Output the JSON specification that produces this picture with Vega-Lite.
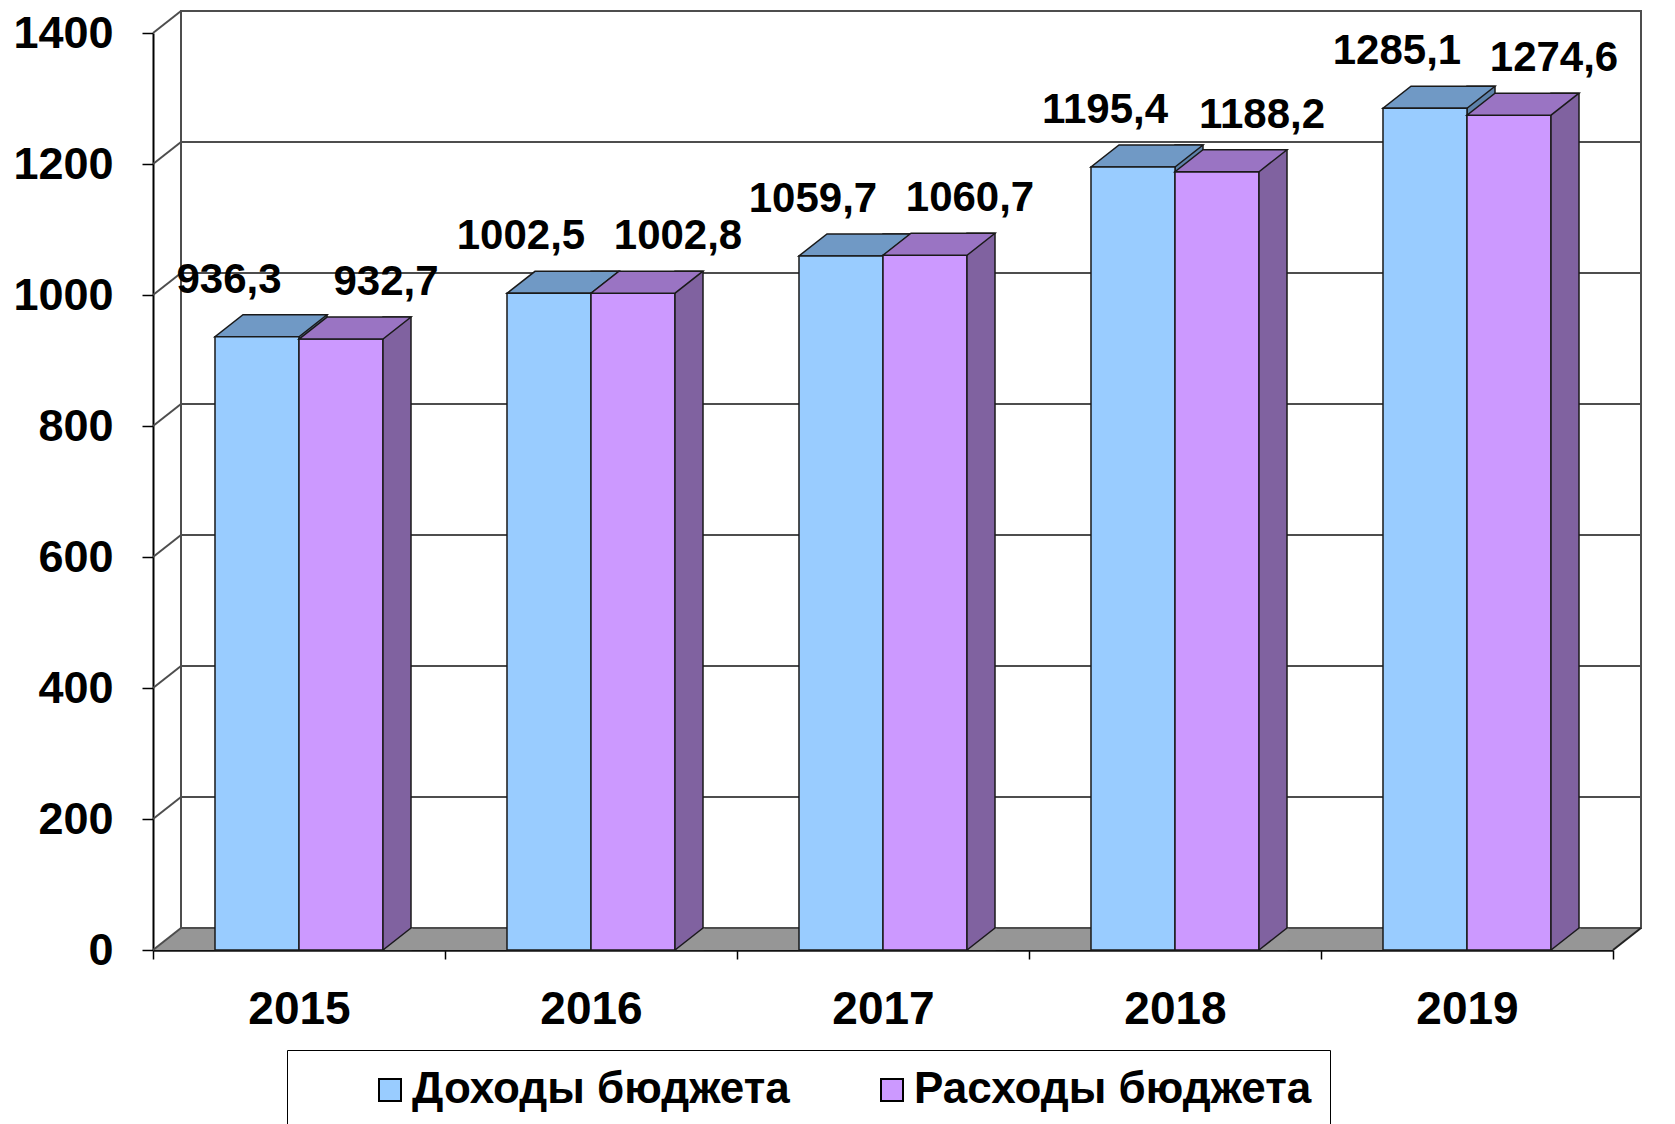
{
  "$schema": "https://vega.github.io/schema/vega-lite/v6.json",
  "width": 1460,
  "height": 917,
  "autosize": {"type": "none"},
  "padding": {"left": 153, "top": 33, "right": 62, "bottom": 174},
  "datasets": {
    "budget": [
      {"year": "2015", "series": "Доходы бюджета", "value": 936.3},
      {"year": "2015", "series": "Расходы бюджета", "value": 932.7},
      {"year": "2016", "series": "Доходы бюджета", "value": 1002.5},
      {"year": "2016", "series": "Расходы бюджета", "value": 1002.8},
      {"year": "2017", "series": "Доходы бюджета", "value": 1059.7},
      {"year": "2017", "series": "Расходы бюджета", "value": 1060.7},
      {"year": "2018", "series": "Доходы бюджета", "value": 1195.4},
      {"year": "2018", "series": "Расходы бюджета", "value": 1188.2},
      {"year": "2019", "series": "Доходы бюджета", "value": 1285.1},
      {"year": "2019", "series": "Расходы бюджета", "value": 1274.6}
    ],
    "grid": [{"v": 0}, {"v": 200}, {"v": 400}, {"v": 600}, {"v": 800}, {"v": 1000}, {"v": 1200}, {"v": 1400}],
    "one": [{}]
  },
  "config": {
    "view": {"stroke": null},
    "locale": {"number": {"decimal": ",", "thousands": "", "grouping": [3], "currency": ["", ""]}},
    "font": "Liberation Sans",
    "axisY": {
      "domainColor": "#000", "domainWidth": 2, "tickColor": "#000", "tickWidth": 1.5, "tickSize": 11,
      "labelFont": "Liberation Sans", "labelFontSize": 45, "labelFontWeight": "bold", "labelColor": "#000",
      "labelPadding": 29, "labelOverlap": false, "grid": false, "format": "d", "zindex": 1
    },
    "axisX": {
      "domainColor": "#111", "domainWidth": 2.5, "tickColor": "#000", "tickWidth": 1.5, "tickSize": 9,
      "tickBand": "extent", "labelAngle": 0,
      "labelFont": "Liberation Sans", "labelFontSize": 46, "labelFontWeight": "bold", "labelColor": "#000",
      "labelPadding": 28, "grid": false, "zindex": 1
    }
  },
  "layer": [
    {
      "data": {"name": "one"},
      "mark": {"type": "rect", "fill": "#ffffff", "stroke": "#4d4d4d", "strokeWidth": 2,
               "xOffset": 28, "x2Offset": 28, "yOffset": -22, "y2Offset": -22},
      "encoding": {
        "x": {"datum": "2015", "type": "nominal", "bandPosition": 0,
              "scale": {"type": "band", "domain": ["2015", "2016", "2017", "2018", "2019"], "paddingInner": 0, "paddingOuter": 0},
              "axis": {"title": null}},
        "x2": {"datum": "2019", "bandPosition": 1},
        "y": {"datum": 0, "type": "quantitative", "scale": {"domain": [0, 1400], "nice": false},
              "axis": {"title": null, "labelOverlap": false, "values": [0, 200, 400, 600, 800, 1000, 1200, 1400]}},
        "y2": {"datum": 1400}
      }
    },
    {
      "data": {"name": "one"},
      "mark": {"type": "rect", "fill": "#969696", "xOffset": 28, "y2Offset": -22},
      "encoding": {
        "x": {"datum": "2015", "type": "nominal", "bandPosition": 0, "axis": {"title": null}},
        "x2": {"datum": "2019", "bandPosition": 1},
        "y": {"datum": 0, "type": "quantitative", "axis": {"title": null, "labelOverlap": false}},
        "y2": {"datum": 0}
      }
    },
    {
      "data": {"name": "one"},
      "mark": {"type": "point", "shape": "M0,0L28,-22L28,0Z", "size": 4, "filled": true, "fill": "#969696", "opacity": 1, "strokeWidth": 0},
      "encoding": {
        "x": {"datum": "2015", "type": "nominal", "bandPosition": 0, "axis": {"title": null}},
        "y": {"datum": 0, "type": "quantitative", "axis": {"title": null, "labelOverlap": false}}
      }
    },
    {
      "data": {"name": "one"},
      "mark": {"type": "point", "shape": "M0,0L0,-22L28,-22Z", "size": 4, "filled": true, "fill": "#969696", "opacity": 1, "strokeWidth": 0},
      "encoding": {
        "x": {"datum": "2019", "type": "nominal", "bandPosition": 1, "axis": {"title": null}},
        "y": {"datum": 0, "type": "quantitative", "axis": {"title": null, "labelOverlap": false}}
      }
    },
    {
      "data": {"name": "grid"},
      "mark": {"type": "rule", "stroke": "#4d4d4d", "strokeWidth": 2, "xOffset": 28, "x2Offset": 28, "yOffset": -22},
      "encoding": {
        "x": {"datum": "2015", "type": "nominal", "bandPosition": 0, "axis": {"title": null}},
        "x2": {"datum": "2019", "bandPosition": 1},
        "y": {"field": "v", "type": "quantitative", "axis": {"title": null, "labelOverlap": false}}
      }
    },
    {
      "data": {"name": "grid"},
      "mark": {"type": "rule", "stroke": "#4d4d4d", "strokeWidth": 2, "x2Offset": 28, "y2Offset": -22},
      "encoding": {
        "x": {"datum": "2015", "type": "nominal", "bandPosition": 0, "axis": {"title": null}},
        "x2": {"datum": "2015", "bandPosition": 0},
        "y": {"field": "v", "type": "quantitative", "axis": {"title": null, "labelOverlap": false}},
        "y2": {"field": "v"}
      }
    },
    {
      "data": {"name": "one"},
      "mark": {"type": "rule", "stroke": "#222", "strokeWidth": 2, "x2Offset": 28, "y2Offset": -22},
      "encoding": {
        "x": {"datum": "2019", "type": "nominal", "bandPosition": 1, "axis": {"title": null}},
        "x2": {"datum": "2019", "bandPosition": 1},
        "y": {"datum": 0, "type": "quantitative", "axis": {"title": null, "labelOverlap": false}},
        "y2": {"datum": 0}
      }
    },
    {
      "data": {"name": "budget"},
      "transform": [{"filter": "datum.series === 'Доходы бюджета'"}],
      "mark": {"type": "bar", "fill": "#5d82aa", "stroke": "#1a1a1a", "strokeWidth": 1.5, "width": 28, "xOffset": 14, "yOffset": -22, "y2Offset": 0.001},
      "encoding": {
        "x": {"field": "year", "type": "nominal", "axis": {"title": null}},
        "y": {"field": "value", "type": "quantitative", "axis": {"title": null, "labelOverlap": false}},
        "y2": {"datum": 0}
      }
    },
    {
      "data": {"name": "budget"},
      "transform": [{"filter": "datum.series === 'Доходы бюджета'"}],
      "mark": {"type": "point", "shape": "M-42,0L42,0L70,-22L-14,-22Z", "size": 4, "filled": true, "fill": "#7099c5", "stroke": "#1a1a1a", "strokeWidth": 1.5, "opacity": 1},
      "encoding": {
        "x": {"field": "year", "type": "nominal", "axis": {"title": null}},
        "xOffset": {"field": "series", "type": "nominal", "scale": {"domain": ["Доходы бюджета", "Расходы бюджета"], "paddingInner": 0, "paddingOuter": 0.738}},
        "y": {"field": "value", "type": "quantitative", "axis": {"title": null, "labelOverlap": false}}
      }
    },
    {
      "data": {"name": "budget"},
      "mark": {"type": "bar", "stroke": "#1a1a1a", "strokeWidth": 1.5},
      "encoding": {
        "x": {"field": "year", "type": "nominal", "axis": {"title": null}},
        "xOffset": {"field": "series", "type": "nominal"},
        "y": {"field": "value", "type": "quantitative", "axis": {"title": null, "labelOverlap": false, "values": [0, 200, 400, 600, 800, 1000, 1200, 1400]}},
        "fill": {
          "field": "series", "type": "nominal",
          "scale": {"domain": ["Доходы бюджета", "Расходы бюджета"], "range": ["#99ccff", "#cc99ff"]},
          "legend": {
            "title": null, "orient": "none", "legendX": 134, "legendY": 1017, "direction": "horizontal",
            "strokeColor": "#000", "padding": 18, "symbolType": "square", "symbolSize": 484,
            "symbolStrokeColor": "#000", "symbolStrokeWidth": 2, "symbolOffset": 63,
            "labelFont": "Liberation Sans", "labelFontSize": 44, "labelFontWeight": "bold", "labelColor": "#000",
            "labelLimit": 800, "labelOffset": 0, "columnPadding": 17
          }
        }
      }
    },
    {
      "data": {"name": "budget"},
      "transform": [{"filter": "datum.series === 'Расходы бюджета'"}],
      "mark": {"type": "bar", "fill": "#8062a0", "stroke": "#1a1a1a", "strokeWidth": 1.5, "width": 28, "xOffset": 98, "yOffset": -22, "y2Offset": 0.001},
      "encoding": {
        "x": {"field": "year", "type": "nominal", "axis": {"title": null}},
        "y": {"field": "value", "type": "quantitative", "axis": {"title": null, "labelOverlap": false}},
        "y2": {"datum": 0}
      }
    },
    {
      "data": {"name": "budget"},
      "transform": [{"filter": "datum.series === 'Расходы бюджета'"}],
      "mark": {"type": "point", "shape": "M42.8,0L70,-21.4L71.6,-21.4L71.6,0Z", "size": 4, "filled": true, "fill": "#969696", "strokeWidth": 0, "opacity": 1},
      "encoding": {
        "x": {"field": "year", "type": "nominal", "axis": {"title": null}},
        "xOffset": {"field": "series", "type": "nominal"},
        "y": {"datum": 0, "type": "quantitative", "axis": {"title": null, "labelOverlap": false}}
      }
    },
    {
      "data": {"name": "budget"},
      "transform": [{"filter": "datum.series === 'Расходы бюджета'"}],
      "mark": {"type": "point", "shape": "M42,0L70,-22", "size": 4, "filled": false, "stroke": "#1a1a1a", "strokeWidth": 1.5, "opacity": 1},
      "encoding": {
        "x": {"field": "year", "type": "nominal", "axis": {"title": null}},
        "xOffset": {"field": "series", "type": "nominal"},
        "y": {"datum": 0, "type": "quantitative", "axis": {"title": null, "labelOverlap": false}}
      }
    },
    {
      "data": {"name": "budget"},
      "transform": [{"filter": "datum.series === 'Расходы бюджета'"}],
      "mark": {"type": "point", "shape": "M-42,0L42,0L70,-22L-14,-22Z", "size": 4, "filled": true, "fill": "#9a74c3", "stroke": "#1a1a1a", "strokeWidth": 1.5, "opacity": 1},
      "encoding": {
        "x": {"field": "year", "type": "nominal", "axis": {"title": null}},
        "xOffset": {"field": "series", "type": "nominal"},
        "y": {"field": "value", "type": "quantitative", "axis": {"title": null, "labelOverlap": false}}
      }
    },
    {
      "data": {"name": "budget"},
      "transform": [{"filter": "datum.series === 'Доходы бюджета'"}],
      "mark": {"type": "text", "font": "Liberation Sans", "fontSize": 42, "fontWeight": "bold", "color": "#000", "baseline": "middle", "align": "center", "dx": -28, "dy": -57},
      "encoding": {
        "x": {"field": "year", "type": "nominal", "axis": {"title": null}},
        "xOffset": {"field": "series", "type": "nominal"},
        "y": {"field": "value", "type": "quantitative", "axis": {"title": null, "labelOverlap": false}},
        "text": {"field": "value", "type": "quantitative", "format": ".1f"}
      }
    },
    {
      "data": {"name": "budget"},
      "transform": [{"filter": "datum.series === 'Расходы бюджета'"}],
      "mark": {"type": "text", "font": "Liberation Sans", "fontSize": 42, "fontWeight": "bold", "color": "#000", "baseline": "middle", "align": "center", "dx": 45, "dy": -57},
      "encoding": {
        "x": {"field": "year", "type": "nominal", "axis": {"title": null}},
        "xOffset": {"field": "series", "type": "nominal"},
        "y": {"field": "value", "type": "quantitative", "axis": {"title": null, "labelOverlap": false}},
        "text": {"field": "value", "type": "quantitative", "format": ".1f"}
      }
    }
  ]
}
